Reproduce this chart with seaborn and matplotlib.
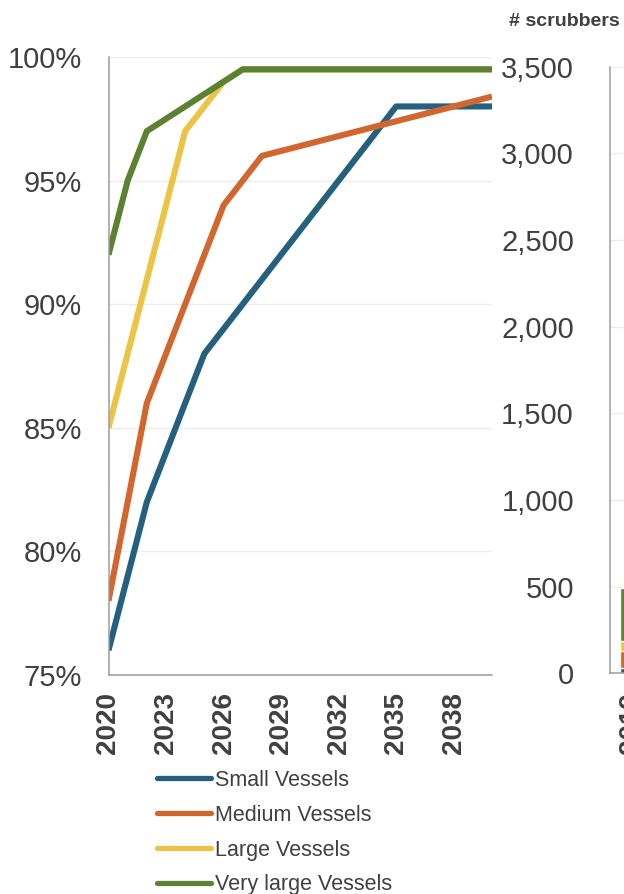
import matplotlib
matplotlib.use("Agg")
import matplotlib.pyplot as plt
import seaborn as sns
import pandas as pd
from matplotlib.ticker import FuncFormatter

# --- data -----------------------------------------------------------------
segments = ["Small Vessels", "Medium Vessels", "Large Vessels", "Very large Vessels"]
colors = ["#25617f", "#d2662f", "#ebc445", "#5b8132"]

small_years = [2020, 2022, 2025, 2035, 2040]
small_share = [76, 82, 88, 98, 98]
medium_years = [2020, 2022, 2026, 2028, 2040]
medium_share = [78, 86, 94, 96, 98.4]
large_years = [2020, 2024, 2026, 2027, 2040]
large_share = [85, 97, 99, 99.5, 99.5]
vlarge_years = [2020, 2021, 2022, 2027, 2040]
vlarge_share = [92, 95, 97, 99.5, 99.5]

year_ticks = [2020, 2023, 2026, 2029, 2032, 2035, 2038]
share_ticks = [75, 80, 85, 90, 95, 100]

scrubber_year = ["2019"]
scrubbers_small = [32]
scrubbers_medium = [94]
scrubbers_large = [59]
scrubbers_vlarge = [308]
scrubber_ticks = [0, 500, 1000, 1500, 2000, 2500, 3000, 3500]

# --- style ----------------------------------------------------------------
sns.set_theme(style="white")
plt.rcParams["font.family"] = ["Liberation Sans", "DejaVu Sans"]
TXT = "#404040"
SPINE = "#9c9c9c"
GRID = "#ececec"

W, H = 624, 894
fig = plt.figure(figsize=(W / 100, H / 100), dpi=100)


def frac(x0, y0, x1, y1):
    return [x0 / W, (H - y1) / H, (x1 - x0) / W, (y1 - y0) / H]


# --- left: share of fleet lines --------------------------------------------
ax1 = fig.add_axes(frac(108.5, 57, 492, 675))

rows = []
for name, yrs, vals in [
    (segments[0], small_years, small_share),
    (segments[1], medium_years, medium_share),
    (segments[2], large_years, large_share),
    (segments[3], vlarge_years, vlarge_share),
]:
    for yr, v in zip(yrs, vals):
        rows.append({"year": yr, "share": v, "segment": name})
df = pd.DataFrame(rows)

sns.lineplot(data=df, x="year", y="share", hue="segment", hue_order=segments,
             palette=colors, linewidth=4.4, errorbar=None, sort=True,
             solid_capstyle="butt", ax=ax1)

handles, labels = ax1.get_legend_handles_labels()
ax1.get_legend().remove()

ax1.set_xlim(2020, 2040)
ax1.set_ylim(75, 100)
ax1.set_xticks(year_ticks)
ax1.set_xticklabels([str(y) for y in year_ticks], rotation=90,
                    fontsize=20, fontweight="bold", color=TXT)
ax1.set_yticks(share_ticks)
ax1.yaxis.set_major_formatter(FuncFormatter(lambda v, p: f"{v:.0f}%"))
ax1.tick_params(axis="y", direction="out", length=6, width=1.1, color=SPINE,
                pad=13, labelsize=21, labelcolor=TXT)
ax1.tick_params(axis="x", direction="out", length=6, width=1.1, color=SPINE,
                pad=6)
ax1.set_xlabel("")
ax1.set_ylabel("")
ax1.grid(axis="y", color=GRID, linewidth=1)
ax1.set_axisbelow(True)
for side in ["top", "right"]:
    ax1.spines[side].set_visible(False)
for side in ["left", "bottom"]:
    ax1.spines[side].set_color(SPINE)
    ax1.spines[side].set_linewidth(1.1)

for h in handles:
    h.set_linewidth(3.8)
    h.set_solid_capstyle("round")
leg = fig.legend(handles, labels, loc="upper left",
                 bbox_to_anchor=(157 / W, (H - 770) / H),
                 frameon=False, fontsize=15.5, handlelength=2.5,
                 handletextpad=0.2, labelspacing=0.64, borderpad=0,
                 borderaxespad=0)
for t in leg.get_texts():
    t.set_color(TXT)

# --- right: scrubber count stacked bar -------------------------------------
ax2 = fig.add_axes(frac(610, 66.7, 910, 673.3))

cum_small = [a for a in scrubbers_small]
cum_medium = [a + b for a, b in zip(cum_small, scrubbers_medium)]
cum_large = [a + b for a, b in zip(cum_medium, scrubbers_large)]
cum_vlarge = [a + b for a, b in zip(cum_large, scrubbers_vlarge)]

for cum, col in [(cum_vlarge, colors[3]), (cum_large, colors[2]),
                 (cum_medium, colors[1]), (cum_small, colors[0])]:
    sns.barplot(x=scrubber_year, y=cum, color=col, saturation=1,
                width=0.8, errorbar=None, ax=ax2)

px_per_unit = 22 / 0.8
x_left = -0.4 - 10 / px_per_unit
ax2.set_xlim(x_left, x_left + 300 / px_per_unit)
ax2.set_xticks([x_left, 0])
ax2.set_xticklabels(["", scrubber_year[0]], rotation=90, fontsize=20,
                    fontweight="bold", color=TXT)
ax2.set_ylim(0, 3500)
ax2.set_yticks(scrubber_ticks)
ax2.yaxis.set_major_formatter(FuncFormatter(lambda v, p: f"{v:,.0f}"))
ax2.tick_params(axis="y", direction="out", length=9, width=1.1, color=SPINE,
                pad=17, labelsize=21, labelcolor=TXT)
ax2.tick_params(axis="x", direction="out", length=8, width=1.1, color=SPINE,
                pad=6)
ax2.set_xlabel("")
ax2.set_ylabel("")
ax2.grid(axis="y", color=GRID, linewidth=1)
ax2.set_axisbelow(True)
for side in ["top", "right"]:
    ax2.spines[side].set_visible(False)
for side in ["left", "bottom"]:
    ax2.spines[side].set_color(SPINE)
    ax2.spines[side].set_linewidth(1.1)

fig.text(564 / W, (H - 21) / H, "# scrubbers", ha="center", va="center",
         fontsize=14, fontweight="bold", color=TXT)

fig.savefig("out.png", dpi=100)
